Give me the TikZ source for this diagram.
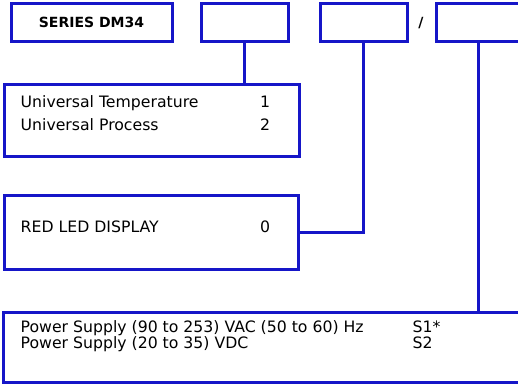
\documentclass[tikz,border=0pt]{standalone}
\usepackage{fontspec}
\setmainfont{DejaVu Sans}
\definecolor{frameblue}{RGB}{22,22,200}
\begin{document}
\begin{tikzpicture}[x=1pt,y=1pt,
  frame/.style={draw=frameblue,line width=3pt,inner sep=0pt,minimum height=#1},
  frame/.default=38,
  link/.style={draw=frameblue,line width=3pt},
  lbl/.style={anchor=base west,inner sep=0pt,font=\fontsize{15.7}{18}\selectfont},
  bold/.style={anchor=base,inner sep=0pt,font=\fontsize{14}{16}\selectfont\bfseries}]
\clip (0,0) rectangle (518,-383);
\useasboundingbox (0,0) rectangle (518,-383);
\node[frame,minimum width=161] (ser) at (91.5,-22) {};
\node[bold] (sert) at (91.5,-27.5) {SERIES DM34};
\node[frame,minimum width=87] (b2) at (244.5,-22) {};
\node[frame,minimum width=87] (b3) at (363.5,-22) {};
\node[bold] (slash) at (421,-27.5) {/};
\node[frame,minimum width=84] (b4) at (478,-22) {};
\node[frame=72,minimum width=295] (uni) at (151.5,-120) {};
\node[lbl] (u1) at (20.5,-107) {Universal Temperature};
\node[lbl] (u1n) at (260,-107) {1};
\node[lbl] (u2) at (20.5,-130) {Universal Process};
\node[lbl] (u2n) at (260,-130) {2};
\node[frame=74,minimum width=294] (led) at (151,-232) {};
\node[lbl] (l1) at (20.5,-232.5) {RED LED DISPLAY};
\node[lbl] (l1n) at (260,-232.5) {0};
\node[frame=70,minimum width=527] (pw) at (266.5,-347) {};
\node[lbl] (p1) at (20.5,-332) {Power Supply (90 to 253) VAC (50 to 60) Hz};
\node[lbl] (p1n) at (412.5,-332) {S1*};
\node[lbl] (p2) at (20.5,-348) {Power Supply (20 to 35) VDC};
\node[lbl] (p2n) at (412.5,-348) {S2};
\draw[link] (b2.south) -- (b2.south |- uni.north);
\draw[link] (b3.south) |- (led.east);
\draw[link] (b4.south) -- (b4.south |- pw.north);
\end{tikzpicture}
\end{document}
